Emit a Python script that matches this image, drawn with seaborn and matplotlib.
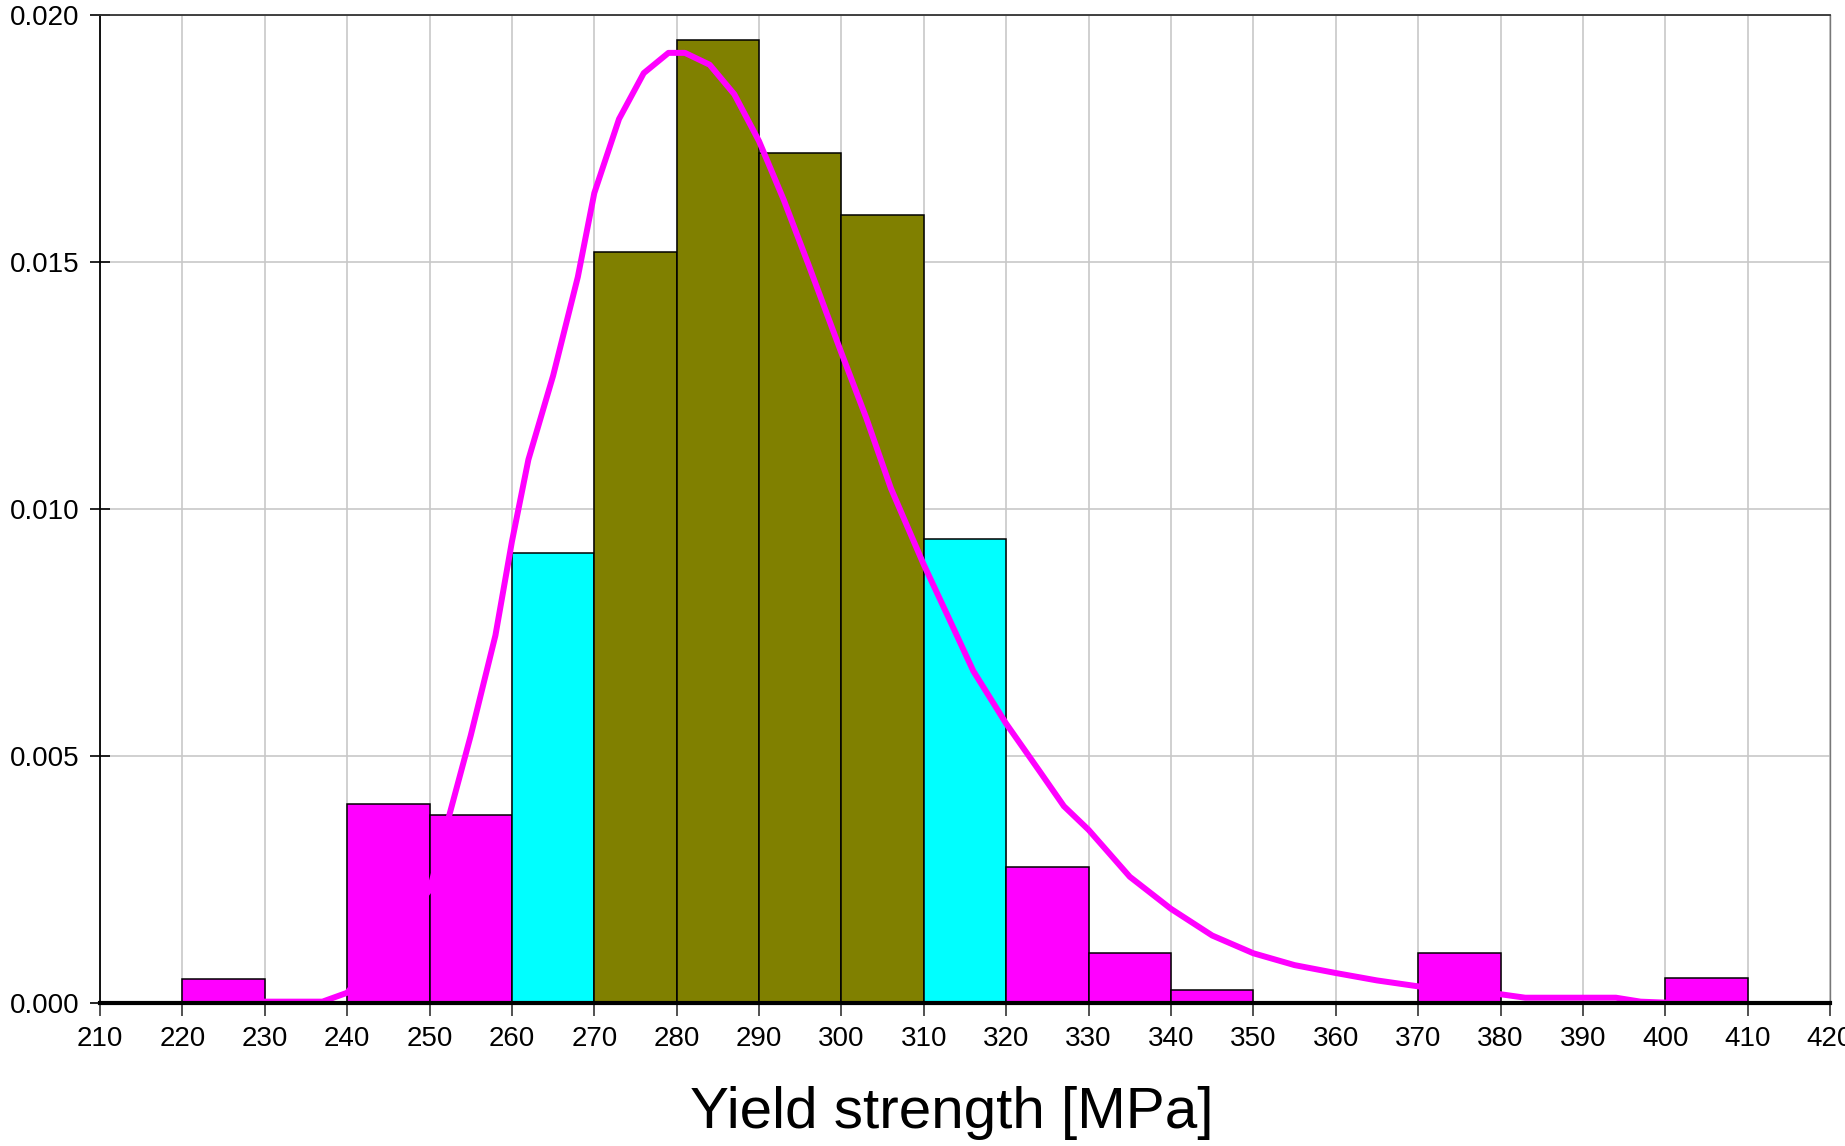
import numpy as np
import pandas as pd
import matplotlib
matplotlib.use("Agg")
import matplotlib.pyplot as plt
import seaborn as sns
from matplotlib.ticker import FormatStrFormatter

# ---- data ----
bin_left = [220, 230, 240, 250, 260, 270, 280, 290, 300, 310, 320, 330, 340, 350, 360, 370, 380, 390, 400]
density = [0.00048, 0.0, 0.00402, 0.00380, 0.00910, 0.01520, 0.01950, 0.01722, 0.01596, 0.00940,
           0.00274, 0.00100, 0.00026, 0.0, 0.0, 0.00100, 0.0, 0.0, 0.00050]
bar_colors = ["#ff00ff", "#ff00ff", "#ff00ff", "#ff00ff", "#00ffff", "#808000", "#808000", "#808000",
              "#808000", "#00ffff", "#ff00ff", "#ff00ff", "#ff00ff", "#ff00ff", "#ff00ff", "#ff00ff",
              "#ff00ff", "#ff00ff", "#ff00ff"]

curve_x = [228, 230, 233, 237, 240, 245, 250, 252.5, 255, 258, 260, 262, 265, 268, 270, 273, 276, 279,
           281, 284, 287, 290, 293, 296, 300, 303, 306, 310, 313, 316, 320, 324, 327, 330, 335, 340,
           345, 350, 355, 360, 365, 370, 375, 380, 383, 390, 394, 397, 400, 409]
curve_y = [0.00002, 0.00002, 0.00002, 0.00002, 0.00020, 0.00120, 0.00228, 0.00386, 0.00541, 0.00744,
           0.00934, 0.01100, 0.01270, 0.01470, 0.01640, 0.01790, 0.01883, 0.01924, 0.01924, 0.01900,
           0.01840, 0.01745, 0.01626, 0.01495, 0.01316, 0.01185, 0.01042, 0.00887, 0.00780, 0.00672,
           0.00565, 0.00470, 0.00398, 0.00350, 0.00255, 0.00190, 0.00136, 0.00100, 0.00076, 0.00060,
           0.00045, 0.00033, 0.00025, 0.00017, 0.00010, 0.00010, 0.00010, 0.00002, 0.0, 0.0]

x_ticks = list(range(210, 421, 10))
y_ticks = [0.000, 0.005, 0.010, 0.015, 0.020]
x_label = "Yield strength [MPa]"

# ---- figure ----
sns.set_style("white")
plt.rcParams["font.family"] = ["Liberation Sans", "DejaVu Sans"]

fig = plt.figure(figsize=(18.45, 11.46), dpi=100)
ax = fig.add_axes([0.0542, 0.1251, 0.9377, 0.8615])

bars_df = pd.DataFrame({"center": [b + 5 for b in bin_left], "density": density})
edges = bin_left + [bin_left[-1] + 10]
sns.histplot(data=bars_df, x="center", weights="density", bins=edges, stat="count",
             ax=ax, edgecolor="black", linewidth=1.1, alpha=1.0, zorder=3)
for patch, col in zip(ax.patches, bar_colors):
    patch.set_facecolor(col)
    patch.set_alpha(1.0)

curve_df = pd.DataFrame({"x": curve_x, "y": curve_y})
sns.lineplot(data=curve_df, x="x", y="y", ax=ax, color="#ff00ff", linewidth=4.3, zorder=4, sort=False)

ax.set_xlim(210, 420)
ax.set_ylim(0, 0.020)
ax.set_xticks(x_ticks)
ax.set_yticks(y_ticks)
ax.yaxis.set_major_formatter(FormatStrFormatter("%.3f"))

ax.grid(True, color="#c8c8c8", linewidth=1.2, zorder=0)
ax.set_axisbelow(True)

for side in ["left", "top", "right", "bottom"]:
    ax.spines[side].set_visible(True)
ax.spines["left"].set_color("black")
ax.spines["left"].set_linewidth(1.3)
ax.spines["top"].set_color("#333333")
ax.spines["top"].set_linewidth(1.3)
ax.spines["right"].set_color("#777777")
ax.spines["right"].set_linewidth(1.0)
ax.spines["bottom"].set_color("black")
ax.spines["bottom"].set_linewidth(3.0)
ax.spines["bottom"].set_zorder(5)

ax.tick_params(axis="y", direction="inout", length=14, width=1.2, colors="black",
               labelsize=20, pad=7.5, left=True)
ax.tick_params(axis="x", direction="out", length=9, width=1.2, colors="#333333",
               labelcolor="black", labelsize=20, pad=8, bottom=True)

ax.set_ylabel("")
ax.set_xlabel(x_label, fontsize=42, labelpad=24, color="black")
ax.xaxis.label.set_x(0.4925)

fig.savefig("out.png", dpi=100)
